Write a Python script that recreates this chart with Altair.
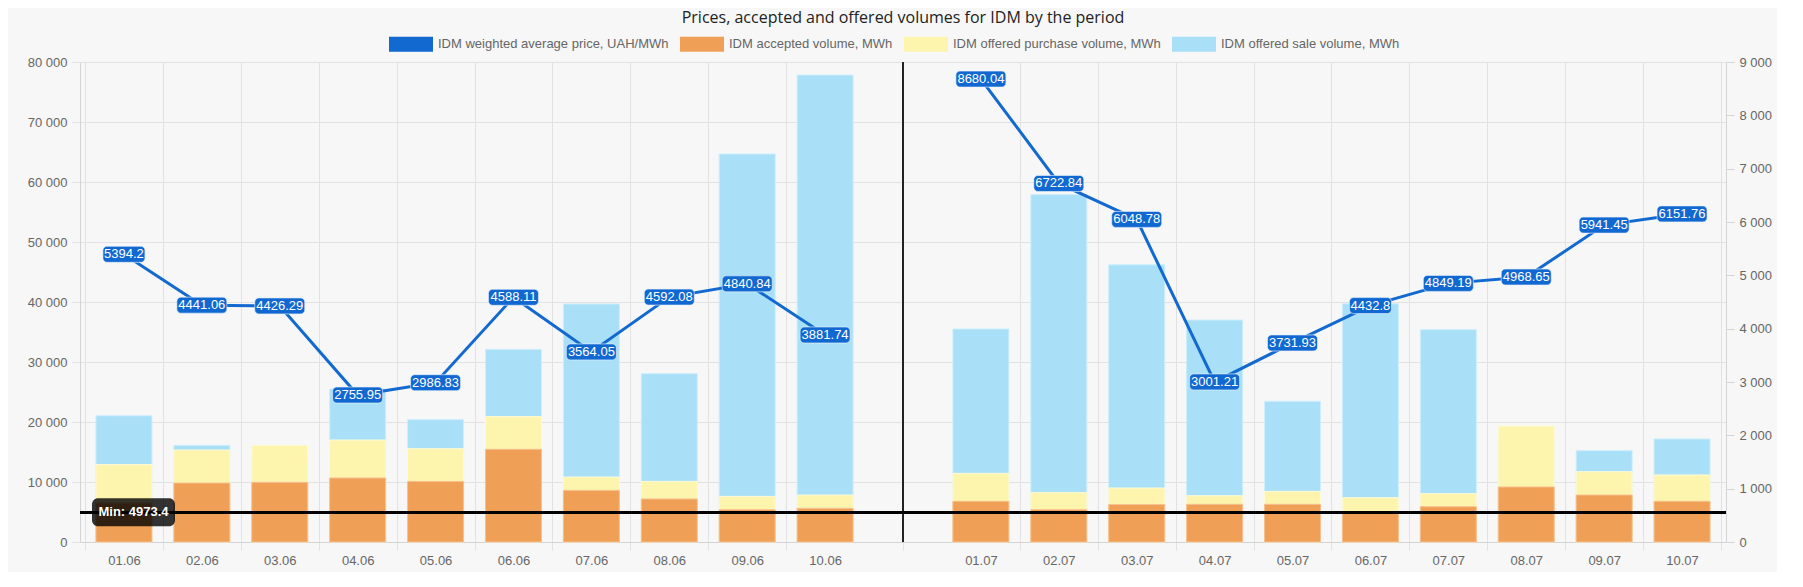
import json
import altair as alt
import pandas as pd

# ---------------- data ----------------
dates = ["01.06", "02.06", "03.06", "04.06", "05.06", "06.06", "07.06", "08.06", "09.06", "10.06",
         "",
         "01.07", "02.07", "03.07", "04.07", "05.07", "06.07", "07.07", "08.07", "09.07", "10.07"]
month = ["06"] * 10 + [""] + ["07"] * 10

price = [5394.2, 4441.06, 4426.29, 2755.95, 2986.83, 4588.11, 3564.05, 4592.08, 4840.84, 3881.74,
         None,
         8680.04, 6722.84, 6048.78, 3001.21, 3731.93, 4432.8, 4849.19, 4968.65, 5941.45, 6151.76]
accepted = [6500, 9830, 9940, 10670, 10100, 15450, 8600, 7170, 5390, 5610,
            None,
            6780, 5390, 6230, 6280, 6280, 4973.4, 5890, 9170, 7830, 6780]
purchase = [12900, 15330, 16100, 17000, 15550, 20900, 10830, 10100, 7600, 7830,
            None,
            11440, 8230, 9000, 7720, 8440, 7390, 8060, 19330, 11720, 11170]
sale = [21050, 16100, 14000, 25500, 20400, 32100, 39670, 28050, 64670, 77830,
        None,
        35500, 57900, 46200, 37000, 23450, 39700, 35400, 17000, 15220, 17170]

S_PRICE = "IDM weighted average price, UAH/MWh"
S_ACC = "IDM accepted volume, MWh"
S_PUR = "IDM offered purchase volume, MWh"
S_SALE = "IDM offered sale volume, MWh"
series_names = [S_PRICE, S_ACC, S_PUR, S_SALE]
series_colors = ["#1269cf", "#f0a056", "#fdf5ae", "#a9e0f8"]
bar_strokes = {S_ACC: "#f6c08f", S_PUR: "#fefad6", S_SALE: "#cdeefc"}

TITLE = "Prices, accepted and offered volumes for IDM by the period"
FONT = "Liberation Sans"
GRID = "#e2e2e2"
AXIS_LINE = "#d4d4d4"
LABEL_C = "#666666"

# ---------------- tables ----------------
n = len(dates)
gap_i = dates.index("")
rows = []
for name, vals in [(S_SALE, sale), (S_PUR, purchase), (S_ACC, accepted)]:
    for i in range(n):
        if vals[i] is not None:
            rows.append({"pos": i + 0.5, "date": dates[i], "series": name, "value": vals[i]})
bars_df = pd.DataFrame(rows)

price_df = pd.DataFrame([
    {"pos": i + 0.5, "date": dates[i], "month": month[i], "price": price[i], "label": str(price[i])}
    for i in range(n) if price[i] is not None
])

min_val = min(v for v in accepted if v is not None)
sep_pos = gap_i + 0.5

# ---------------- axes ----------------
boundaries = [float(k) for k in range(0, n + 1) if k not in (gap_i, gap_i + 1)]
centers = [i + 0.5 for i in range(n) if dates[i] != ""]
x_values = sorted(boundaries + [sep_pos] + centers)
is_center = f"datum.value % 1 == 0.5 && datum.value != {sep_pos}"

x_scale = alt.Scale(domain=[0, n], nice=False, zero=False)
x_axis = alt.Axis(
    values=x_values,
    labelExpr=f"{is_center} ? {json.dumps(dates)}[floor(datum.value)] : ''",
    grid=True, gridColor=GRID,
    gridOpacity={"condition": {"test": is_center, "value": 0}, "value": 1},
    tickOpacity={"condition": {"test": is_center, "value": 0}, "value": 1},
    tickColor=GRID, tickSize=8, domainColor=AXIS_LINE,
    labelColor=LABEL_C, labelFontSize=13, labelFont=FONT, labelPadding=4,
    labelFlush=False, labelOverlap=False, title=None,
)
X = alt.X("pos:Q", scale=x_scale, axis=x_axis)

space_fmt = "replace(format(datum.value, ','), ',', ' ')"
left_scale = alt.Scale(domain=[0, 80000], nice=False, zero=True)
left_axis = alt.Axis(
    values=list(range(0, 80001, 10000)), labelExpr=space_fmt,
    grid=True, gridColor=GRID, tickColor=GRID, tickSize=8, domainColor=AXIS_LINE,
    labelColor=LABEL_C, labelFontSize=13, labelFont=FONT, labelPadding=5,
    title=None, minExtent=72, maxExtent=72,
)
right_scale = alt.Scale(domain=[0, 9000], nice=False, zero=True)
right_axis = alt.Axis(
    orient="right", values=list(range(0, 9001, 1000)), labelExpr=space_fmt,
    grid=False, tickColor=AXIS_LINE, tickSize=8, domainColor=AXIS_LINE,
    labelColor=LABEL_C, labelFontSize=13, labelFont=FONT, labelPadding=5, title=None,
)

color = alt.Color(
    "series:N",
    scale=alt.Scale(domain=series_names, range=series_colors),
    legend=alt.Legend(
        orient="none", legendX=309, legendY=-40, direction="horizontal", columns=4,
        title=None, symbolType="M-1,-0.34L1,-0.34L1,0.34L-1,0.34Z", symbolSize=44 * 44,
        symbolStrokeWidth=0, symbolOpacity=1, labelFontSize=13, labelFont=FONT,
        labelColor=LABEL_C, labelOffset=5, columnPadding=11, padding=0, labelLimit=600,
    ),
)

# ---------------- bars (left axis) ----------------
bar_base = alt.Chart(bars_df)
bar_layers = []
for name in [S_SALE, S_PUR, S_ACC]:
    bar_layers.append(
        bar_base.transform_filter(alt.datum.series == name)
        .mark_bar(width=56, stroke=bar_strokes[name], strokeWidth=1)
        .encode(x=X, y=alt.Y("value:Q", scale=left_scale, axis=left_axis), color=color)
    )

min_rule = alt.Chart(bars_df).mark_rule(color="black", strokeWidth=2).encode(
    y=alt.datum(min_val, scale=left_scale)
)
sep_rule = alt.Chart(bars_df).mark_rule(color="#222222", strokeWidth=2).encode(
    x=alt.datum(sep_pos, scale=x_scale)
)
min_df = pd.DataFrame({"pos": [0.0], "v": [min_val], "txt": [f"Min: {min_val}"]})
min_box = alt.Chart(min_df).transform_calculate(
    lo="datum.v - 2333", hi="datum.v + 2333"
).mark_bar(width=83, cornerRadius=6, color="black", opacity=0.8, xOffset=48.5).encode(
    x=alt.X("pos:Q", scale=x_scale), y=alt.Y("lo:Q", scale=left_scale), y2="hi:Q"
)
min_text = alt.Chart(min_df).mark_text(
    color="white", fontSize=13, fontWeight="bold", font=FONT, align="center",
    baseline="middle", dx=48.5,
).encode(x=alt.X("pos:Q", scale=x_scale), y=alt.Y("v:Q", scale=left_scale), text="txt:N")

left_layer = alt.layer(*bar_layers, sep_rule, min_rule, min_box, min_text)

# ---------------- price (right axis) ----------------
pbase = alt.Chart(price_df)
line = pbase.mark_line(color=series_colors[0], strokeWidth=3).encode(
    x=X, y=alt.Y("price:Q", scale=right_scale, axis=right_axis), detail="month:N"
)
box_layers = []
for L, w in [(6, 42), (7, 50)]:
    box_layers.append(
        pbase.transform_filter(f"length(datum.label) == {L}")
        .transform_calculate(lo="datum.price - 150", hi="datum.price + 150")
        .mark_bar(width=w, cornerRadius=4, color="#1168d0", stroke="#e8f1fb",
                  strokeWidth=0.8, strokeOpacity=0.8)
        .encode(x=alt.X("pos:Q", scale=x_scale), y=alt.Y("lo:Q", scale=right_scale), y2="hi:Q")
    )
ptext = pbase.mark_text(color="white", fontSize=13, font=FONT, align="center", baseline="middle").encode(
    x=alt.X("pos:Q", scale=x_scale), y=alt.Y("price:Q", scale=right_scale), text="label:N"
)
right_layer = alt.layer(line, *box_layers, ptext)

chart = (
    alt.layer(left_layer, right_layer)
    .resolve_scale(y="independent")
    .properties(
        width=1646, height=480,
        title=alt.TitleParams(TITLE, font="Open Sans", fontSize=16, fontWeight="normal",
                              color="#222222", anchor="middle", offset=-4),
        padding={"left": 0, "top": 2, "right": 5, "bottom": 5},
        background="#f7f7f7",
    )
    .configure_view(stroke=None)
)

chart.save("out.html", embed_options={"renderer": "svg", "actions": False})
